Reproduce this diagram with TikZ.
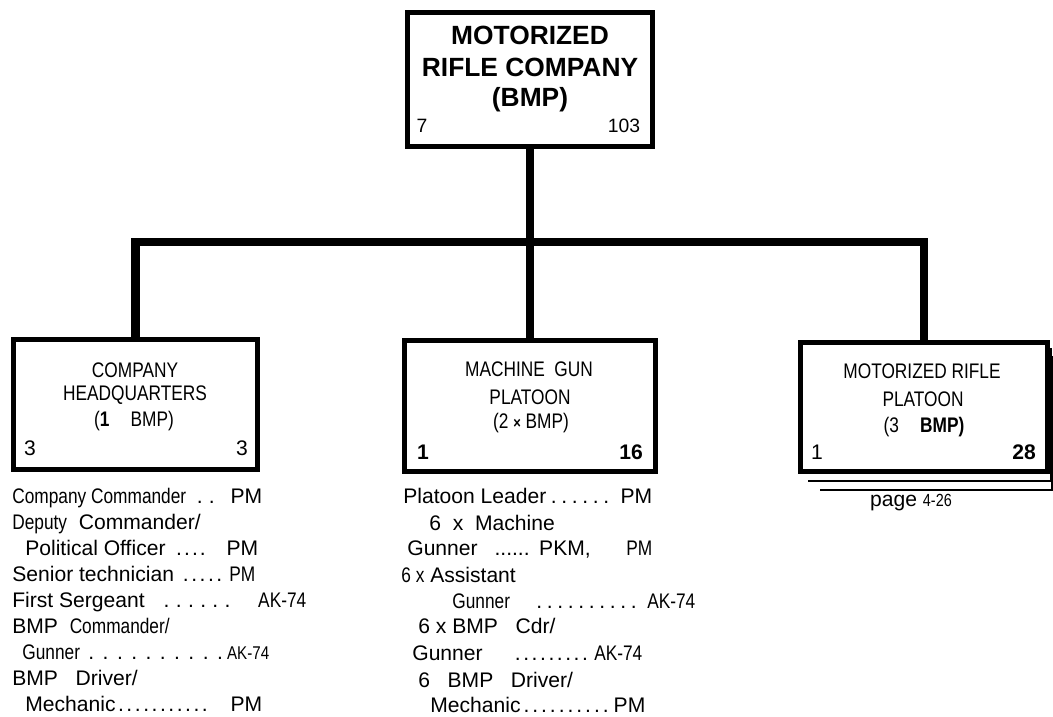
\documentclass[tikz,border=0pt]{standalone}
\usepackage{fontspec}
\setmainfont{Liberation Sans}
\newfontfamily\narrow[FakeStretch=0.82]{Liberation Sans}
\usepackage{tikz}

% a row of leader dots: count, gap before each dot
\newcommand{\dotrow}[2]{\foreach \dotn in {1,...,#1}{\kern#2.}}

\tikzset{
  unitbox/.style={draw, line width=0.1cm, inner sep=0, outer sep=0},
  trunk/.style={line width=0.17cm},
  sheet/.style={line width=0.045cm},
  toptxt/.style={font=\fontsize{15}{18}\selectfont\bfseries, inner sep=0},
  topnum/.style={font=\fontsize{11}{13}\selectfont, inner sep=0},
  boxtxt/.style={font=\narrow\fontsize{12}{14}\selectfont, inner sep=0},
  num/.style={font=\fontsize{12}{14}\selectfont, inner sep=0},
  entry/.style={font=\fontsize{12}{14}\selectfont, inner sep=0, anchor=base west}
}

\begin{document}
\begin{tikzpicture}[x=0.02cm,y=-0.02cm]

    \useasboundingbox (0,0) rectangle (1053,716);

    %%%%%%%%%%%%%%%%%%%%%%%%%%%%%%%%%%%%%%%%%%%%%%%%%%%%%%

    % company
    \node[unitbox, minimum width=4.92cm, minimum height=2.7cm] (mrc) at (530,79.5) {};
    \node[toptxt] (mrca) at (530,35) {MOTORIZED};
    \node[toptxt] (mrcb) at (530,67) {RIFLE COMPANY};
    \node[toptxt] (mrcc) at (530,100) {(BMP)};
    \node[topnum] (mrco) at (422,126) {7};
    \node[topnum] (mrce) at (624,126) {103};

    %%%%%%%%%%%%%%%%%%%%%%%%%%%%%%%%%%%%%%%%%%%%%%%%%%%%%%

    % company headquarters
    \node[unitbox, minimum width=4.9cm, minimum height=2.62cm] (hq) at (135.5,404.5) {};
    \node[boxtxt] (hqa) at (135,370) {COMPANY};
    \node[boxtxt] (hqb) at (135,395) {HEADQUARTERS};
    \node[boxtxt] (hqc) at (134,421) {(\textbf{1}\quad BMP)};
    \node[num] (hqo) at (30,448) {3};
    \node[num] (hqe) at (242,448) {3};

    % machine gun platoon
    \node[unitbox, minimum width=5.02cm, minimum height=2.64cm] (mgp) at (530,406) {};
    \node[boxtxt] (mgpa) at (529,369) {MACHINE\ \ GUN};
    \node[boxtxt] (mgpb) at (530,397) {PLATOON};
    \node[boxtxt] (mgpc) at (531,423) {(2 {\fontsize{9}{9}\selectfont\textbf{×}} BMP)};
    \node[num, font=\fontsize{12}{14}\selectfont\bfseries] (mgpo) at (423,452) {1};
    \node[num, font=\fontsize{12}{14}\selectfont\bfseries] (mgpe) at (631,452) {16};

    % motorized rifle platoon, three of them
    \node[unitbox, minimum width=4.96cm, minimum height=2.6cm] (mrp) at (924,407) {};
    \draw[sheet] ([xshift=0.16cm,yshift=-0.18cm]mrp.south west) -| ([xshift=0.06cm,yshift=-0.12cm]mrp.north east);
    \draw[sheet] ([xshift=0.4cm,yshift=-0.36cm]mrp.south west) -| ([xshift=0.09cm,yshift=-0.28cm]mrp.north east);
    \node[boxtxt] (mrpa) at (922,371) {MOTORIZED\ RIFLE};
    \node[boxtxt] (mrpb) at (923,399) {PLATOON};
    \node[boxtxt] (mrpc) at (924,427) {(3\quad\textbf{BMP)}};
    \node[num] (mrpo) at (817,452) {1};
    \node[num, font=\fontsize{12}{14}\selectfont\bfseries] (mrpe) at (1024,452) {28};
    \node[num, anchor=base] (pg) at (911,506) {page {\narrow\fontsize{10}{12}\selectfont 4-26}};

    %%%%%%%%%%%%%%%%%%%%%%%%%%%%%%%%%%%%%%%%%%%%%%%%%%%%%%

    % bus bar
    \coordinate (bus) at (530,242);
    \draw[trunk] (mrc.south) -- (mgp.north);
    \draw[trunk] (hq.north) |- (bus) -| (mrp.north);

    %%%%%%%%%%%%%%%%%%%%%%%%%%%%%%%%%%%%%%%%%%%%%%%%%%%%%%

    % headquarters weapons
    \node[entry] (hq1) at (12,503) {\makebox[5cm][l]{{\narrow Company Commander}\kern.5em.\kern.3em.\hfill PM}};
    \node[entry] (hq2) at (12,529) {{\narrow Deputy}\ \ Commander/};
    \node[entry] (hq3) at (25,555) {\makebox[4.66cm][l]{Political Officer\kern.4em\dotrow{4}{.1em}\hfill PM}};
    \node[entry] (hq4) at (12,581) {\makebox[4.86cm][l]{Senior technician\kern.3em\dotrow{5}{.12em}\hfill{\narrow PM}}};
    \node[entry] (hq5) at (12,607) {\makebox[5.88cm][l]{First Sergeant\kern.6em\dotrow{6}{.3em}\hfill{\narrow AK-74}}};
    \node[entry] (hq6) at (12,633) {BMP\ \ {\narrow Commander/}};
    \node[entry] (hq7) at (22,659) {\makebox[4.8cm][l]{{\narrow Gunner}\hfill\dotrow{10}{.4em}\kern.2em{\narrow\fontsize{10.5}{12}\selectfont AK-74}}};
    \node[entry] (hq8) at (12,685) {BMP\ \ \ Driver/};
    \node[entry] (hq9) at (25,711) {\makebox[4.74cm][l]{Mechanic\dotrow{11}{.12em}\hfill PM}};

    % machine gun platoon weapons
    \node[entry] (mg1) at (403,503) {\makebox[4.98cm][l]{Platoon Leader\dotrow{6}{.22em}\hfill PM}};
    \node[entry] (mg2) at (429,530) {6\ \ x\ \ Machine};
    \node[entry] (mg3) at (407,555) {\makebox[4.9cm][l]{Gunner\kern.8em......\kern.45em PKM,\hfill{\narrow PM}}};
    \node[entry] (mg4) at (401,582) {{\narrow 6 x} Assistant};
    \node[entry] (mg5) at (452,608) {\makebox[4.86cm][l]{{\narrow Gunner}\hfill\dotrow{10}{.22em}\kern.5em{\narrow AK-74}}};
    \node[entry] (mg6) at (418,633) {6\ x\ BMP\ \ \ Cdr/};
    \node[entry] (mg7) at (412,660) {\makebox[4.6cm][l]{Gunner\hfill\dotrow{9}{.12em}\kern.3em{\narrow AK-74}}};
    \node[entry] (mg8) at (418,687) {6\ \ \ BMP\ \ \ Driver/};
    \node[entry] (mg9) at (430,712) {\makebox[4.3cm][l]{Mechanic\dotrow{10}{.14em}\hfill PM}};

\end{tikzpicture}
\end{document}
